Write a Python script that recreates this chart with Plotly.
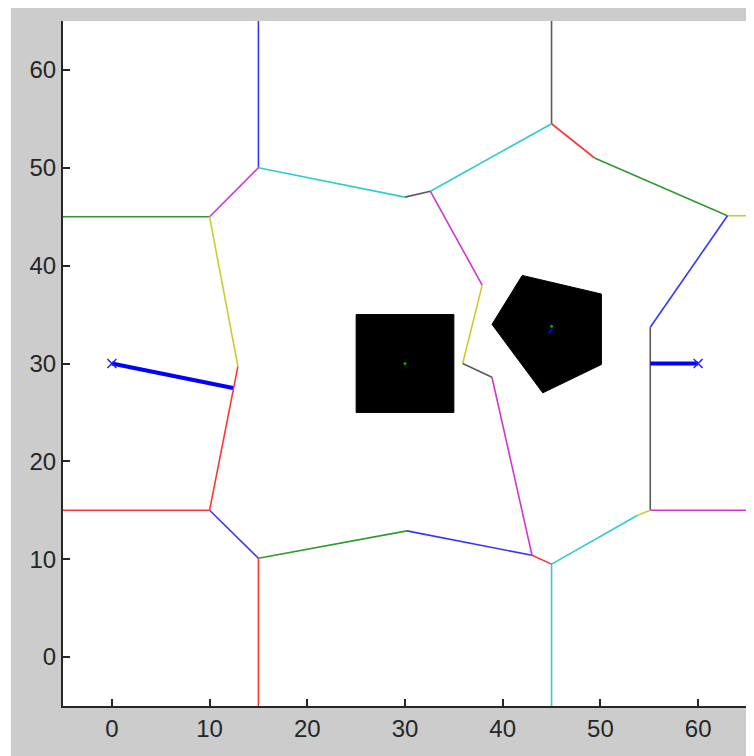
import plotly.graph_objects as go

# Voronoi-like edge segments (data coordinates), one entry per edge
edge_x0 = [15, 45, -5, 10, 15, 30, 32.6, 45, 49.4, 63, 63, 55.1, 55.1, 55.1, 53.8, 45, 45, 43, 30.2, 15, 10, -5, 10, 12.9, 32.6, 37.9, 35.9, 38.9]
edge_y0 = [50, 54.5, 45, 45, 50, 47, 47.6, 54.5, 51, 45.1, 45.1, 33.7, 15, 15, 14.5, 9.5, 9.5, 10.4, 12.9, 10.1, 15, 15, 15, 29.7, 47.6, 38, 30, 28.6]
edge_x1 = [15, 45, 10, 15, 30, 32.6, 45, 49.4, 63, 65, 55.1, 55.1, 65, 53.8, 45, 45, 43, 30.2, 15, 15, 15, 10, 12.9, 10, 37.9, 35.9, 38.9, 43]
edge_y1 = [65, 65, 45, 50, 47, 47.6, 54.5, 51, 45.1, 45.1, 33.7, 15, 15, 14.5, 9.5, -5, 10.4, 12.9, 10.1, -5, 10.1, 15, 29.7, 45, 38, 30, 28.6, 10.4]
edge_kind = ["b", "k", "g", "m", "c", "k", "c", "r", "g", "y", "b", "k", "m", "y", "c", "c", "r", "b", "g", "r", "b", "r", "r", "y", "m", "y", "k", "m"]

# Obstacles
square_x = [25, 35, 35, 25, 25]
square_y = [25, 25, 35, 35, 25]
pent_x = [42.0, 50.1, 50.1, 44.1, 38.9, 42.0]
pent_y = [39.0, 37.1, 29.9, 27.0, 34.0, 39.0]

# Paths (thick blue) and endpoints
path_left_x = [0, 12.4]
path_left_y = [30, 27.5]
path_right_x = [55.1, 60]
path_right_y = [30, 30]
goal_x = [0, 60]
goal_y = [30, 30]
inner_path_x = [45.1, 44.7]
inner_path_y = [33.6, 33.1]
center_x = [30, 45.0]
center_y = [30, 33.8]

tick_vals = [0, 10, 20, 30, 40, 50, 60]
tick_text = ["0", "10", "20", "30", "40", "50", "60"]

palette = {"b": "#3535ff", "k": "#5a5a5a", "g": "#2f9a2f", "m": "#d035d0",
           "c": "#30cccc", "r": "#ff3535", "y": "#cccc2a"}

fig = go.Figure()

fig.add_trace(go.Scatter(x=square_x, y=square_y, fill="toself", fillcolor="black",
                         mode="lines", line=dict(color="black", width=1), hoverinfo="skip"))
fig.add_trace(go.Scatter(x=pent_x, y=pent_y, fill="toself", fillcolor="black",
                         mode="lines", line=dict(color="black", width=1), hoverinfo="skip"))

for x0, y0, x1, y1, k in zip(edge_x0, edge_y0, edge_x1, edge_y1, edge_kind):
    fig.add_trace(go.Scatter(x=[x0, x1], y=[y0, y1], mode="lines",
                             line=dict(color=palette[k], width=1.6), hoverinfo="skip"))

fig.add_trace(go.Scatter(x=path_left_x, y=path_left_y, mode="lines",
                         line=dict(color="#0000ff", width=4)))
fig.add_trace(go.Scatter(x=path_right_x, y=path_right_y, mode="lines",
                         line=dict(color="#0000ff", width=4)))
fig.add_trace(go.Scatter(x=goal_x, y=goal_y, mode="markers",
                         marker=dict(symbol="x-thin", size=9, line=dict(color="#2020ff", width=1.5))))
fig.add_trace(go.Scatter(x=inner_path_x, y=inner_path_y, mode="lines",
                         line=dict(color="#0000ff", width=2)))
fig.add_trace(go.Scatter(x=center_x, y=center_y, mode="markers",
                         marker=dict(color="#00aa00", size=3)))

# page body has an 8px margin: figure occupies (8,8)-(754,756)
W, H = 746, 748
L, R, T, B = 55, 7, 13, 50
pw, ph = W - L - R, H - T - B

def px2paper_x(px):
    return (px - L) / pw

def px2paper_y(py):
    return (H - B - py) / ph

shapes = [
    dict(type="rect", xref="paper", yref="paper", x0=px2paper_x(0), x1=px2paper_x(3),
         y0=px2paper_y(H), y1=px2paper_y(0), fillcolor="white", line=dict(width=0), layer="above"),
]

axis_common = dict(range=[-5, 65], tickvals=tick_vals, ticktext=tick_text,
                   showgrid=False, zeroline=False, showline=True, linecolor="#262626",
                   linewidth=2, ticks="inside", ticklen=7, tickwidth=1.5, tickcolor="#262626",
                   tickfont=dict(family="Liberation Sans Narrow, Arial Narrow, Liberation Sans, Arial",
                                 size=24, color="#262626"),
                   mirror=False, fixedrange=True)

fig.update_layout(
    width=W, height=H,
    margin=dict(l=L, r=R, t=T, b=B, pad=0),
    paper_bgcolor="#cccccc", plot_bgcolor="white",
    showlegend=False,
    xaxis=axis_common,
    yaxis=axis_common,
    shapes=shapes,
)

fig.write_html("out.html")
